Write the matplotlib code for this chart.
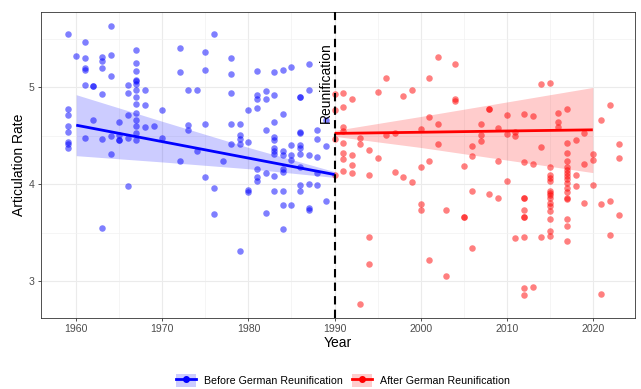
import matplotlib
matplotlib.use('Agg')
import matplotlib.pyplot as plt
from matplotlib.patches import Patch
from matplotlib.lines import Line2D
from matplotlib.ticker import MultipleLocator
import numpy as np

plt.rcParams['font.family'] = ['Liberation Sans', 'DejaVu Sans']

# ---- data: speeches before reunification ----
before_year = [
    1959, 1959, 1959, 1959, 1959, 1959, 1959, 1959,
    1960,
    1961, 1961, 1961, 1961, 1961, 1961,
    1962, 1962, 1962,
    1963, 1963, 1963, 1963, 1963, 1963,
    1964, 1964, 1964, 1964, 1964,
    1965, 1965, 1965, 1965,
    1966, 1966, 1966, 1966, 1966,
    1967, 1967, 1967, 1967, 1967, 1967, 1967, 1967, 1967, 1967, 1967, 1967, 1967, 1967,
    1968, 1968, 1968,
    1969,
    1970, 1970,
    1972, 1972, 1972,
    1973, 1973, 1973,
    1974, 1974,
    1975, 1975, 1975, 1975,
    1976, 1976, 1976,
    1977,
    1978, 1978, 1978, 1978, 1978,
    1979, 1979, 1979, 1979, 1979,
    1980, 1980, 1980, 1980,
    1981, 1981, 1981, 1981, 1981, 1981, 1981,
    1982, 1982, 1982, 1982, 1982,
    1983, 1983, 1983, 1983, 1983, 1983, 1983, 1983, 1983, 1983,
    1984, 1984, 1984, 1984, 1984, 1984, 1984, 1984, 1984,
    1985, 1985, 1985, 1985, 1985,
    1986, 1986, 1986, 1986, 1986, 1986, 1986, 1986, 1986, 1986,
    1987, 1987, 1987, 1987, 1987, 1987,
    1988, 1988, 1988, 1988, 1988,
    1989, 1989, 1989,
]
before_rate = [
    5.55, 4.78, 4.72, 4.60, 4.54, 4.44, 4.42, 4.37,
    5.33,
    5.47, 5.30, 5.20, 5.18, 5.03, 4.48,
    5.02, 5.02, 4.66,
    5.31, 5.27, 5.20, 4.93, 4.47, 3.55,
    5.64, 5.34, 5.12, 4.50, 4.31,
    4.64, 4.51, 4.46, 4.46,
    5.03, 4.94, 4.72, 4.48, 3.98,
    5.39, 5.25, 5.17, 5.08, 5.07, 5.04, 4.97, 4.90, 4.83, 4.74, 4.66, 4.60, 4.53, 4.46,
    4.97, 4.82, 4.59,
    4.60,
    4.77, 4.48,
    5.41, 5.16, 4.24,
    4.97, 4.61, 4.56,
    4.97, 4.34,
    5.37, 5.18, 4.62, 4.07,
    5.55, 3.96, 3.69,
    4.24,
    5.30, 5.14, 4.94, 4.62, 4.42,
    4.62, 4.51, 4.47, 4.42, 3.31,
    4.77, 4.44, 3.94, 3.92,
    5.17, 4.92, 4.88, 4.79, 4.16, 4.07, 4.03,
    4.96, 4.88, 4.56, 4.12, 3.70,
    5.16, 4.92, 4.64, 4.49, 4.46, 4.37, 4.34, 4.31, 4.08, 3.93,
    5.18, 4.73, 4.34, 4.30, 4.16, 4.13, 3.93, 3.78, 3.54,
    5.21, 4.41, 4.30, 4.25, 3.79,
    4.90, 4.90, 4.54, 4.53, 4.41, 4.37, 4.31, 4.18, 3.99, 3.93,
    5.24, 4.97, 4.30, 4.00, 3.75, 3.73,
    4.56, 4.47, 4.28, 4.12, 3.99,
    4.66, 4.40, 3.83,
]

# ---- data: speeches after reunification ----
after_year = [
    1990, 1990, 1990, 1990,
    1991, 1991, 1991, 1991, 1991, 1991, 1991, 1991,
    1992, 1992, 1992, 1992,
    1993, 1993, 1993,
    1994, 1994, 1994, 1994,
    1995, 1995,
    1996, 1996,
    1997, 1997,
    1998, 1998,
    1999, 1999,
    2000, 2000, 2000, 2000,
    2001, 2001, 2001, 2001,
    2002, 2002, 2002,
    2003, 2003,
    2004, 2004, 2004,
    2005, 2005, 2005,
    2006, 2006, 2006, 2006,
    2007, 2007, 2007,
    2008, 2008, 2008,
    2009, 2009, 2009,
    2010, 2010, 2010,
    2011, 2011, 2011,
    2012, 2012, 2012, 2012, 2012, 2012, 2012, 2012, 2012, 2012,
    2013, 2013, 2013,
    2014, 2014, 2014,
    2015, 2015, 2015, 2015, 2015, 2015, 2015, 2015, 2015, 2015, 2015, 2015, 2015, 2015, 2015,
    2016, 2016, 2016,
    2017, 2017, 2017, 2017, 2017, 2017, 2017, 2017, 2017, 2017, 2017, 2017, 2017, 2017, 2017, 2017, 2017,
    2018, 2018, 2018,
    2019, 2019, 2019,
    2020, 2020, 2020,
    2021, 2021, 2021,
    2022, 2022, 2022,
    2023, 2023, 2023,
]
after_rate = [
    4.93, 4.77, 4.47, 4.09,
    4.94, 4.80, 4.59, 4.55, 4.43, 4.32, 4.26, 4.14,
    4.88, 4.30, 4.20, 4.12,
    4.48, 4.42, 2.76,
    4.35, 4.09, 3.45, 3.18,
    4.95, 4.27,
    5.10, 4.51,
    4.53, 4.13,
    4.91, 4.07,
    4.97, 4.02,
    4.57, 4.18, 3.80, 3.73,
    5.10, 4.69, 4.24, 3.22,
    5.32, 4.62, 4.42,
    3.73, 3.05,
    5.24, 4.88, 4.86,
    4.19, 3.66, 3.66,
    4.39, 4.29, 3.93, 3.34,
    4.62, 4.51, 4.45,
    4.78, 4.78, 3.90,
    4.58, 4.24, 3.86,
    4.72, 4.52, 4.03,
    4.54, 4.50, 3.44,
    4.73, 4.23, 3.86, 3.86, 3.73, 3.66, 3.66, 3.45, 2.93, 2.85,
    4.70, 4.21, 2.94,
    5.04, 4.38, 3.45,
    5.05, 4.18, 4.10, 4.06, 4.03, 3.93, 3.91, 3.89, 3.86, 3.81, 3.77, 3.72, 3.64, 3.52, 3.46,
    4.74, 4.64, 4.59,
    4.78, 4.43, 4.32, 4.24, 4.18, 4.15, 4.12, 4.08, 4.05, 4.01, 3.96, 3.92, 3.86, 3.85, 3.64, 3.57, 3.41,
    4.46, 4.09, 3.98,
    4.53, 4.21, 3.81,
    4.31, 4.25, 3.99,
    4.66, 3.80, 2.86,
    4.82, 3.83, 3.48,
    4.42, 4.27, 3.68,
]

# ---- model fits ----
before_fit_year = [1960, 1970, 1980, 1990]
before_fit = [4.61, 4.44, 4.27, 4.10]
before_lo = [4.295, 4.23, 4.16, 4.07]
before_hi = [4.925, 4.65, 4.38, 4.13]

after_fit_year = [1990, 2000, 2010, 2020]
after_fit = [4.525, 4.537, 4.55, 4.562]
after_lo = [4.495, 4.38, 4.25, 4.12]
after_hi = [4.555, 4.70, 4.85, 5.00]

reunification_year = 1990
x_ticks = [1960, 1970, 1980, 1990, 2000, 2010, 2020]
y_ticks = [3, 4, 5]
labels = ['Before German Reunification', 'After German Reunification']

BLUE = '#0000FF'
RED = '#FF0000'

fig = plt.figure(figsize=(6.41, 3.89), dpi=100)
ax = fig.add_axes([40.5 / 641, 1 - 318 / 389, (635 - 40.5) / 641, (318 - 12) / 389])

ax.set_xlim(1955.85, 2024.9)
ax.set_ylim(2.617, 5.78)

# grid
ax.set_xticks(x_ticks)
ax.set_yticks(y_ticks)
ax.xaxis.set_minor_locator(MultipleLocator(5))
ax.yaxis.set_minor_locator(MultipleLocator(0.5))
ax.grid(which='major', color='#EBEBEB', lw=0.8)
ax.grid(which='minor', color='#F2F2F2', lw=0.5)
ax.set_axisbelow(True)
ax.tick_params(which='minor', length=0)
ax.tick_params(which='major', length=2.3, width=0.6, color='#333333',
               labelcolor='#4D4D4D', labelsize=7.6, pad=1.8)
for s in ax.spines.values():
    s.set_color('#333333')
    s.set_linewidth(0.6)

# points
ax.scatter(before_year, before_rate, s=22, color=BLUE, alpha=0.5, lw=0, zorder=2)
ax.scatter(after_year, after_rate, s=22, color=RED, alpha=0.5, lw=0, zorder=2)

# bands + fits
ax.fill_between(before_fit_year, before_lo, before_hi, color=BLUE, alpha=0.2, lw=0, zorder=3)
ax.fill_between(after_fit_year, after_lo, after_hi, color=RED, alpha=0.2, lw=0, zorder=3)
ax.plot(before_fit_year, before_fit, color=BLUE, lw=2, zorder=4, solid_capstyle='butt')
ax.plot(after_fit_year, after_fit, color=RED, lw=2, zorder=4, solid_capstyle='butt')

# reunification line
ax.axvline(reunification_year, color='black', lw=1.5, ls=(0, (4, 2.5)), zorder=5)
ax.text(reunification_year - 1.05, 5.05, 'Reunification', rotation=90,
        ha='center', va='center', fontsize=10, color='black', zorder=6)

ax.set_xlabel('Year', fontsize=10, labelpad=1.5)
ax.set_ylabel('Articulation Rate', fontsize=10, labelpad=2)

# legend
h1 = (Patch(facecolor=BLUE, alpha=0.2, lw=0),
      Line2D([], [], color=BLUE, lw=2, marker='o', markersize=4))
h2 = (Patch(facecolor=RED, alpha=0.2, lw=0),
      Line2D([], [], color=RED, lw=2, marker='o', markersize=4))
fig.legend([h1, h2], labels, loc='center', bbox_to_anchor=(343 / 641, 1 - 380.5 / 389),
           ncol=2, frameon=False, fontsize=7.7, handlelength=1.9, handleheight=1.4,
           handletextpad=0.75, columnspacing=0.85, borderpad=0, borderaxespad=0)

fig.savefig('out.png', dpi=100)
